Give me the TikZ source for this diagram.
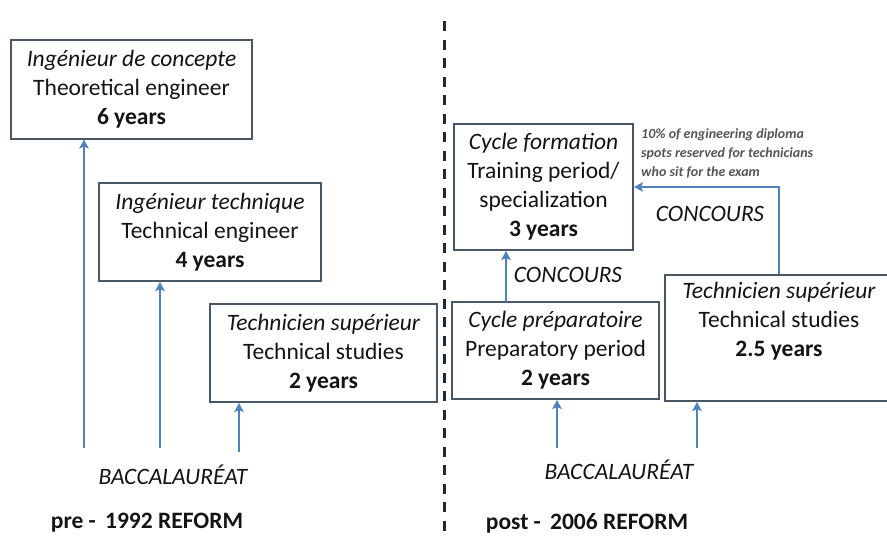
\documentclass[tikz,border=0pt]{standalone}
\usepackage{fontspec}
\setmainfont{Carlito}
\usetikzlibrary{arrows.meta}
\definecolor{txt}{HTML}{141414}
\definecolor{boxline}{HTML}{4A5866}
\definecolor{arrblue}{HTML}{4F81BD}
\definecolor{notegray}{HTML}{555555}
\definecolor{dashcol}{HTML}{1F2A33}
\tikzset{
  stage/.style={draw=boxline, line width=2pt, fill=white, inner sep=0pt, align=center,
    text=txt, font=\fontsize{23.5}{29}\selectfont},
  arr/.style={draw=arrblue, line width=2.8pt, -{Stealth[length=9pt,width=9.5pt,inset=2pt]}},
  plain/.style={text=txt, inner sep=0pt, font=\fontsize{23.5}{29}\selectfont},
  note/.style={text=notegray, inner sep=0pt, align=left, font=\fontsize{14}{19}\selectfont\bfseries\itshape},
  divider/.style={draw=dashcol, line width=3pt, dash pattern=on 10pt off 8.5pt}
}
\begin{document}
\begin{tikzpicture}[x=1pt,y=-1pt]
\useasboundingbox (0,0) rectangle (887,538);
\clip (0,0) rectangle (887,538);
% divider
\coordinate (dtop) at (444,21);
\coordinate (dbot) at (444,545);
\draw[divider] (dtop) -- (dbot);

% left side boxes
\node[stage, minimum width=241pt, minimum height=99pt] (A) at (131.5,89)
  {{\itshape Ingénieur de concepte}\\Theoretical engineer\\{\bfseries 6 years}};
\node[stage, minimum width=222pt, minimum height=98pt] (B) at (210,232)
  {{\itshape Ingénieur technique}\\Technical engineer\\{\bfseries 4 years}};
\node[stage, minimum width=227pt, minimum height=98pt] (C) at (323.5,353)
  {{\itshape Technicien supérieur}\\Technical studies\\{\bfseries 2 years}};

\coordinate (sA) at (84,448);
\coordinate (sB) at (160,448);
\coordinate (sC) at (239,452);
\draw[arr] (sA) -- (sA |- A.south);
\draw[arr] (sB) -- (sB |- B.south);
\draw[arr] (sC) -- (sC |- C.south);

\node[plain, font=\fontsize{23.5}{29}\selectfont\itshape] (bacL) at (173,475) {BACCALAURÉAT};
\node[plain, font=\fontsize{23.5}{29}\selectfont\bfseries] (preL) at (147,523) {pre - \,1992 REFORM};

% right side boxes
\node[stage, minimum width=179pt, minimum height=126pt] (D) at (543.5,187)
  {{\itshape Cycle formation}\\Training period/\\specialization\\{\bfseries 3 years}};
\node[stage, minimum width=207pt, minimum height=97pt] (E) at (555.5,350.5)
  {{\itshape Cycle préparatoire}\\Preparatory period\\{\bfseries 2 years}};
\node[stage, minimum width=228pt, minimum height=126pt] (F) at (779,338)
  {{\itshape Technicien supérieur}\\Technical studies\\{\bfseries 2.5 years}\\\strut};

\coordinate (sE) at (506,302);
\draw[arr] (sE) -- (sE |- D.south);
\draw[arr] (F.north) |- (D.east);

\node[plain, font=\fontsize{23.5}{29}\selectfont\itshape] (conc1) at (568,275) {CONCOURS};
\node[plain, font=\fontsize{23.5}{29}\selectfont\itshape] (conc2) at (710,214) {CONCOURS};
\node[note, anchor=west] (note) at (641,153)
  {10\% of engineering diploma\\spots reserved for technicians\\who sit for the exam};

\coordinate (sE2) at (557,448);
\coordinate (sF) at (697,448);
\draw[arr] (sE2) -- (sE2 |- E.south);
\draw[arr] (sF) -- (sF |- F.south);

\node[plain, font=\fontsize{23.5}{29}\selectfont\itshape] (bacR) at (619,470) {BACCALAURÉAT};
\node[plain, font=\fontsize{23.5}{29}\selectfont\bfseries] (postR) at (587,523) {post - \,2006 REFORM};
\end{tikzpicture}
\end{document}
